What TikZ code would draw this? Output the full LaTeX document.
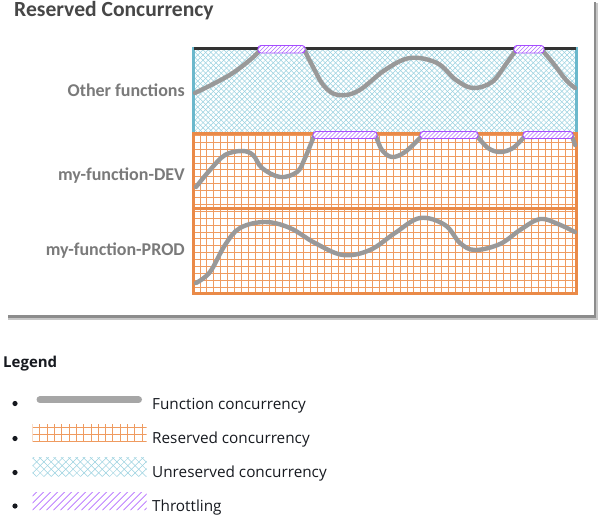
\documentclass[tikz,border=0pt]{standalone}
\usepackage{fontspec}
\setmainfont{Open Sans}
\newfontfamily\chartfont{Carlito}
\usetikzlibrary{positioning}
\definecolor{blueedge}{HTML}{6BB8CC}
\definecolor{bluehatch}{HTML}{9AD1E0}
\definecolor{orangeedge}{HTML}{EA8A48}
\definecolor{orangegrid}{HTML}{EF9B60}
\definecolor{purpleedge}{HTML}{A64DFF}
\definecolor{purplehatch}{HTML}{B46EFF}
\definecolor{curvegray}{HTML}{999999}
\definecolor{labelgray}{HTML}{7A7A7A}
\definecolor{titlegray}{HTML}{474747}
\definecolor{legendtext}{HTML}{16191F}

\begin{document}
\begin{tikzpicture}[x=1pt,y=-1pt,
  lbl/.style={font=\chartfont\bfseries\fontsize{18}{19}\selectfont,text=labelgray,anchor=base east,inner sep=0pt},
  leg/.style={font=\fontsize{15.3}{17}\selectfont,text=legendtext,anchor=base west,inner sep=0pt},
  curve/.style={draw=curvegray,line width=4.4pt,line cap=round,line join=round},
  thr/.style={draw=purpleedge,line width=0.9pt,rounded corners=3pt,fill=white,
    path picture={\foreach \k in {-12,-8,...,72}
      \draw[purplehatch,line width=0.6pt] ([xshift=\k pt]path picture bounding box.south west) -- ++(14,-14);}},
  unres/.style={fill=white,path picture={\foreach \j [evaluate=\j as \k using \j*#1-120] in {0,...,150} {
      \draw[bluehatch,line width=0.5pt] ([xshift=\k pt]path picture bounding box.south west) -- ++(120,-120);
      \draw[bluehatch,line width=0.5pt] ([xshift=\k pt]path picture bounding box.south west) -- ++(-120,-120);}}},
  res/.style={fill=white,path picture={\foreach \k in {0,#1,...,400} {
      \draw[orangegrid,line width=0.8pt] ([xshift=\k pt]path picture bounding box.south west) -- ([xshift=\k pt]path picture bounding box.north west);
      \draw[orangegrid,line width=0.8pt] ([yshift=\k pt]path picture bounding box.south west) -- ([yshift=\k pt]path picture bounding box.south east);}}}]
\useasboundingbox (0,0) rectangle (599,517);
% card with shadow
\fill[black!22] (8,3) rectangle (597.5,319.5);
\fill[black!45] (8,2) rectangle (595.5,317.5);
\fill[white] (0,0) rectangle (593.5,315);
\node[font=\chartfont\bfseries\fontsize{21.6}{23}\selectfont,text=titlegray,anchor=base west,inner sep=0pt] (title) at (14,16.7) {Reserved Concurrency};

% regions
\path[unres=5.2] (193,48) rectangle (577,133);
\path[res=6.9] (193,133) rectangle (577,294);
\draw[blueedge,line width=3.5pt] (193.5,47) -- (193.5,133);
\draw[blueedge,line width=3.5pt] (576.5,47) -- (576.5,133);
\draw[black!80,line width=3pt] (194,48) -- (576,48);
\draw[orangeedge,line width=3pt] (193.5,133.5) rectangle (576.5,293.5);
\draw[orangeedge,line width=3pt] (195,208) -- (575,208);

% function concurrency
\draw[curve] plot[smooth,tension=0.6] coordinates {(195,93) (228,76) (250,60) (261,49)} -- (304,49)
  plot[smooth,tension=0.6] coordinates {(304,49) (312,65) (324,86) (338,95) (358,91) (385,70) (410,58) (437,63) (456,80) (473,88) (492,82) (506,64) (516,50)} -- (542,50)
  plot[smooth,tension=0.6] coordinates {(542,50) (553,63) (566,80) (575,88)};
\draw[curve] plot[smooth,tension=0.6] coordinates {(196,187) (210,170) (225,155) (242,151) (253,155) (262,168) (280,177) (297,172) (305,158) (314,136)} -- (376,136)
  plot[smooth,tension=0.6] coordinates {(376,136) (382,150) (392,157) (405,152) (421,137)} -- (477,136)
  plot[smooth,tension=0.6] coordinates {(477,136) (488,148) (500,152) (513,148) (524,137)} -- (572,136)
  plot[smooth,tension=0.6] coordinates {(572,136) (575,145)};
\draw[curve] plot[smooth,tension=0.6] coordinates {(196,283) (210,272) (225,245) (240,228) (265,222) (290,228) (315,243) (343,255) (370,250) (395,233) (420,218) (445,225) (460,243) (475,250) (500,244) (520,230) (540,219) (558,224) (575,232)};

% throttling
\path[thr] (258,45.5) rectangle (305,53);
\path[thr] (514,45.5) rectangle (544,53);
\path[thr] (313,131.5) rectangle (377,138.5);
\path[thr] (420,131.5) rectangle (478,138.5);
\path[thr] (523,131.5) rectangle (573,138.5);

\node[lbl] (other) at (185,96.5) {Other functions};
\node[lbl] (dev) at (185,180) {my-function-DEV};
\node[lbl] (prod) at (185,255) {my-function-PROD};

% legend
\node[font=\bfseries\fontsize{15}{16}\selectfont,text=legendtext,anchor=base west,inner sep=0pt] (legend) at (3,367.3) {Legend};
\foreach \y in {403.5,438.5,472.5,506} \fill[legendtext] (15,\y) circle (2.6);
\draw[curve,draw=black!35,line width=7pt] (40,399.7) -- (138.5,399.7);
\path[res=7.3] (32.5,423.5) rectangle (146.5,441.5);
\path[unres=7.3] (32.5,457) rectangle (146.5,476.5);
\path[fill=white,path picture={\foreach \k in {-21,-14,...,120}
  \draw[purplehatch,line width=0.7pt] ([xshift=\k pt]path picture bounding box.south west) -- ++(20,-20);}] (32.5,492) rectangle (146.5,510);
\node[leg] (funcleg) at (152,409.3) {Function concurrency};
\node[leg] (resleg) at (152,443) {Reserved concurrency};
\node[leg] (unresleg) at (152,477) {Unreserved concurrency};
\node[leg] (thrleg) at (152,511) {Throttling};
\end{tikzpicture}
\end{document}
